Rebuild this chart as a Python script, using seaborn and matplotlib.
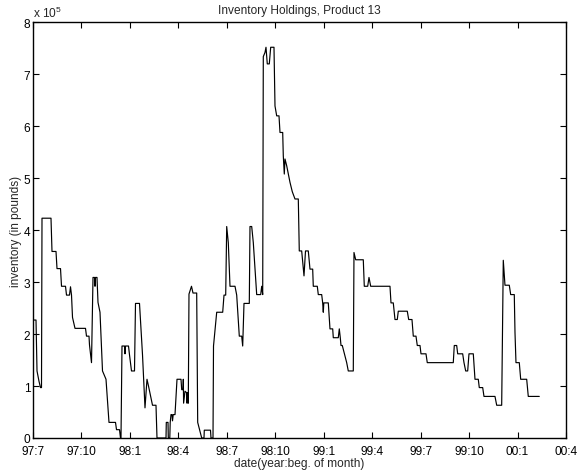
import matplotlib
matplotlib.use("Agg")
import matplotlib.pyplot as plt
import seaborn as sns
import pandas as pd

# months since 97:7 (beginning of month)
months = [
    0.000, 0.186, 0.248, 0.372, 0.464, 0.526, 0.557, 1.114, 1.176, 1.424,
    1.486, 1.703, 1.765, 2.012, 2.074, 2.260, 2.322, 2.384, 2.446, 2.600,
    3.250, 3.312, 3.467, 3.498, 3.622, 3.715, 3.808, 3.839, 3.870, 3.962,
    4.024, 4.148, 4.303, 4.520, 4.705, 5.108, 5.170, 5.356, 5.417, 5.448,
    5.510, 5.665, 5.696, 5.727, 5.913, 5.975, 6.098, 6.284, 6.346, 6.594,
    6.780, 6.934, 7.058, 7.151, 7.275, 7.399, 7.615, 7.677, 8.235, 8.253,
    8.359, 8.377, 8.470, 8.495, 8.544, 8.606, 8.637, 8.680, 8.792, 8.916,
    9.163, 9.207, 9.287, 9.306, 9.325, 9.411, 9.516, 9.535, 9.566, 9.615,
    9.658, 9.813, 9.906, 10.135, 10.197, 10.339, 10.445, 10.587, 10.606, 10.990,
    11.021, 11.145, 11.176, 11.374, 11.745, 11.826, 11.931, 11.993, 12.092, 12.197,
    12.507, 12.612, 12.773, 12.921, 12.983, 13.064, 13.392, 13.435, 13.541, 13.640,
    13.745, 13.850, 14.098, 14.160, 14.222, 14.259, 14.364, 14.426, 14.506, 14.630,
    14.717, 14.921, 14.983, 15.088, 15.231, 15.293, 15.460, 15.497, 15.559, 15.602,
    15.707, 15.806, 15.912, 16.054, 16.221, 16.426, 16.487, 16.636, 16.779, 16.872,
    17.045, 17.150, 17.317, 17.354, 17.602, 17.664, 17.874, 17.936, 17.974, 18.005,
    18.283, 18.388, 18.556, 18.593, 18.902, 18.964, 19.026, 19.070, 19.150, 19.422,
    19.521, 19.831, 19.874, 19.980, 20.450, 20.512, 20.723, 20.803, 20.908, 22.103,
    22.165, 22.307, 22.413, 22.555, 22.617, 23.174, 23.261, 23.465, 23.546, 23.713,
    23.793, 23.961, 24.023, 24.332, 24.412, 26.022, 26.084, 26.233, 26.295, 26.604,
    26.685, 26.790, 26.914, 26.994, 27.261, 27.366, 27.570, 27.632, 27.843, 27.923,
    28.604, 28.710, 29.019, 29.118, 29.223, 29.490, 29.576, 29.799, 29.843, 29.904,
    30.109, 30.196, 30.567, 30.666, 31.347,
]

# inventory in units of 1e5 pounds
inventory = [
    2.27, 2.27, 1.29, 1.09, 0.97, 0.97, 4.23, 4.23, 3.59, 3.59,
    3.26, 3.26, 2.92, 2.92, 2.75, 2.75, 2.91, 2.75, 2.32, 2.11,
    2.11, 1.96, 1.96, 1.79, 1.45, 3.09, 3.09, 2.92, 3.09, 3.09,
    2.61, 2.42, 1.29, 1.13, 0.30, 0.30, 0.16, 0.16, 0.00, 0.00,
    1.77, 1.77, 1.62, 1.77, 1.77, 1.60, 1.29, 1.29, 2.59, 2.59,
    1.60, 0.58, 1.13, 1.00, 0.81, 0.63, 0.63, 0.00, 0.00, 0.30,
    0.30, 0.00, 0.00, 0.30, 0.45, 0.45, 0.33, 0.45, 0.45, 1.13,
    1.13, 0.93, 0.93, 1.13, 0.67, 0.90, 0.87, 0.67, 0.87, 0.67,
    2.77, 2.92, 2.79, 2.79, 0.30, 0.13, 0.00, 0.00, 0.15, 0.15,
    0.00, 0.00, 1.77, 2.42, 2.42, 2.75, 2.75, 4.07, 3.76, 2.92,
    2.92, 2.75, 1.96, 1.96, 1.77, 2.59, 2.59, 4.07, 4.07, 3.76,
    3.26, 2.76, 2.76, 2.92, 2.76, 7.34, 7.42, 7.52, 7.20, 7.20,
    7.52, 7.52, 6.39, 6.20, 6.20, 5.88, 5.88, 5.43, 5.08, 5.37,
    5.24, 5.08, 4.92, 4.74, 4.60, 4.60, 3.60, 3.60, 3.12, 3.60,
    3.60, 3.25, 3.25, 2.92, 2.92, 2.76, 2.76, 2.60, 2.42, 2.60,
    2.60, 2.10, 2.10, 1.93, 1.93, 2.10, 1.93, 1.78, 1.78, 1.45,
    1.29, 1.29, 3.57, 3.43, 3.43, 2.92, 2.92, 3.09, 2.92, 2.92,
    2.60, 2.60, 2.28, 2.28, 2.44, 2.44, 2.28, 2.28, 1.96, 1.96,
    1.78, 1.78, 1.62, 1.62, 1.45, 1.45, 1.78, 1.78, 1.62, 1.62,
    1.45, 1.29, 1.29, 1.62, 1.62, 1.13, 1.13, 0.97, 0.97, 0.80,
    0.80, 0.63, 0.63, 3.42, 2.94, 2.94, 2.76, 2.76, 2.03, 1.45,
    1.45, 1.13, 1.13, 0.80, 0.80,
]

tick_months = [0, 3, 6, 9, 12, 15, 18, 21, 24, 27, 30, 33]
tick_labels = ["97:7", "97:10", "98:1", "98:4", "98:7", "98:10",
               "99:1", "99:4", "99:7", "99:10", "00:1", "00:4"]
y_ticks = [0, 1, 2, 3, 4, 5, 6, 7, 8]

sns.set_style("white")
plt.rcParams["font.family"] = ["Liberation Sans", "DejaVu Sans"]
plt.rcParams["mathtext.fontset"] = "custom"
plt.rcParams["mathtext.rm"] = "Liberation Sans"

FS = 8.6

df = pd.DataFrame({"month": months, "inventory": inventory})

fig = plt.figure(figsize=(5.77, 4.77), dpi=100)
ax = fig.add_axes([0.0572, 0.0797, 0.9237, 0.8714])

sns.lineplot(data=df, x="month", y="inventory", ax=ax, estimator=None,
             sort=False, color="black", linewidth=0.85)

ax.set_xlim(0, 33)
ax.set_ylim(0, 8)
ax.set_xticks(tick_months)
ax.set_xticklabels(tick_labels)
ax.set_yticks(y_ticks)
ax.set_yticklabels([str(v) for v in y_ticks])
ax.tick_params(direction="in", length=4, width=0.8, labelsize=FS,
               top=True, right=True, bottom=True, left=True, pad=2,
               colors="black")
ax.tick_params(axis="x", pad=5)
for s in ax.spines.values():
    s.set_color("black")
    s.set_linewidth(1.0)

ax.set_xlabel("date(year:beg. of month)", fontsize=FS, labelpad=0)
ax.set_ylabel("inventory (in pounds)", fontsize=FS, labelpad=1)
ax.set_title("Inventory Holdings, Product 13", fontsize=FS, pad=7)
ax.text(0.0, 1.006, r"x 10$^5$", transform=ax.transAxes, fontsize=FS,
        ha="left", va="bottom")

fig.savefig("out.png", dpi=100)
